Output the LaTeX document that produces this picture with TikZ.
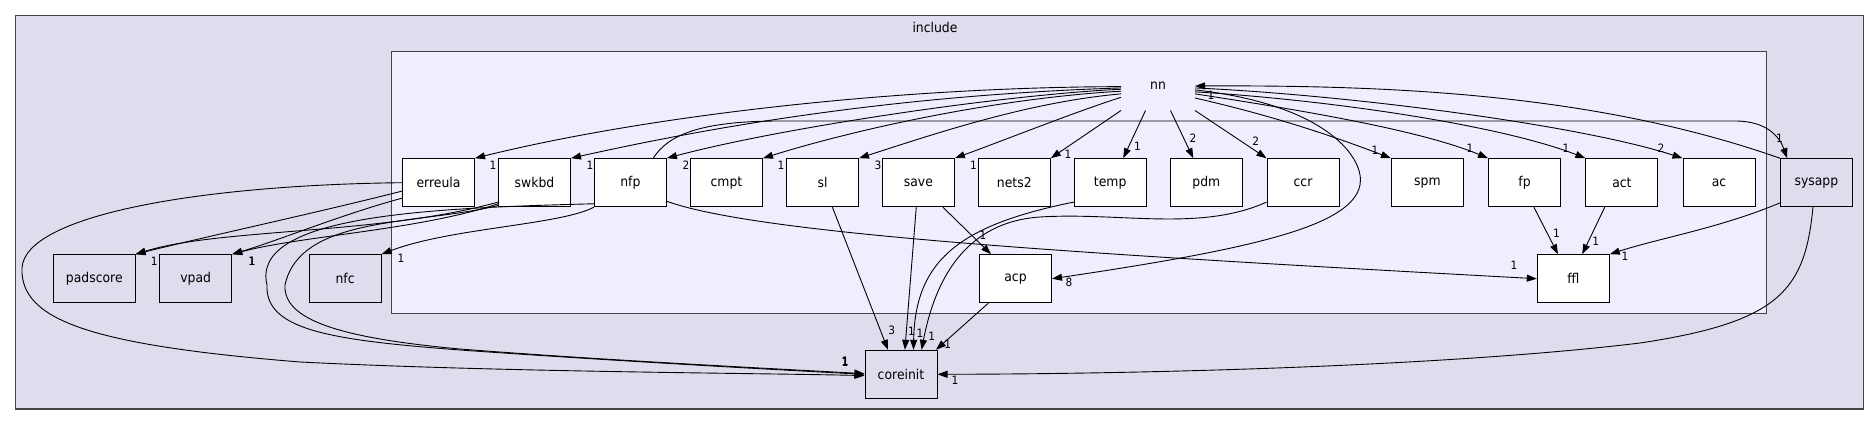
\documentclass[tikz,border=0pt]{standalone}
\usepackage{fontspec}
\setmainfont{DejaVu Sans}[FakeStretch=0.92]
\usetikzlibrary{arrows.meta}
\definecolor{outerfill}{HTML}{DDDDEE}
\definecolor{innerfill}{HTML}{EEEEFF}
\definecolor{clusterline}{HTML}{444444}
\begin{document}
\begin{tikzpicture}[x=1pt,y=-1pt,>={Triangle[length=10pt,width=7pt]},line width=1pt,
  font=\fontsize{13.5}{16}\selectfont,
  dirbox/.style={draw=black,fill=white,minimum width=72pt,minimum height=48pt,inner sep=0pt},
  extbox/.style={dirbox,fill=outerfill},
  dep/.style={->,line width=.9pt},
  lbl/.style={font=\fontsize{11.5}{13}\selectfont,inner sep=0pt}]
  \useasboundingbox (0,0) rectangle (1872,425);
  % clusters
  \draw[clusterline,fill=outerfill,line width=1.3pt] (15.5,15.7) rectangle (1863.7,409);
  \node (include) at (935,27) {include};
  \draw[clusterline,fill=innerfill,line width=1.3pt] (391.8,51.7) rectangle (1766.5,313.3);
  \node[minimum width=73pt,minimum height=48pt,inner sep=0pt] (nn) at (1158,86) {nn};
  % directories
  \node[dirbox] (erreula) at (438.5,182.7) {erreula};
  \node[dirbox] (swkbd) at (534.5,182.7) {swkbd};
  \node[dirbox] (nfp) at (630.4,182.7) {nfp};
  \node[dirbox] (cmpt) at (726.5,182.7) {cmpt};
  \node[dirbox] (sl) at (822.5,182.7) {sl};
  \node[dirbox] (save) at (918.4,182.7) {save};
  \node[dirbox] (nets2) at (1014.3,182.7) {nets2};
  \node[dirbox] (temp) at (1110.2,182.7) {temp};
  \node[dirbox] (pdm) at (1206.3,182.7) {pdm};
  \node[dirbox] (ccr) at (1303,182.7) {ccr};
  \node[dirbox] (spm) at (1427.4,182.7) {spm};
  \node[dirbox] (fp) at (1524.5,182.7) {fp};
  \node[dirbox] (act) at (1621.9,182.7) {act};
  \node[dirbox] (ac) at (1719,182.7) {ac};
  \node[extbox] (sysapp) at (1816.4,182.7) {sysapp};
  \node[extbox,minimum width=81.6pt] (padscore) at (94.3,278.7) {padscore};
  \node[extbox] (vpad) at (195.7,278.7) {vpad};
  \node[extbox] (nfc) at (345.1,278.7) {nfc};
  \node[dirbox] (acp) at (1015.5,278.7) {acp};
  \node[dirbox] (ffl) at (1573.3,278.7) {ffl};
  \node[extbox] (coreinit) at (901,374.3) {coreinit};
  % nn -> subdirectories
  \draw[dep] (nn.181) .. controls (900,87) and (650,115) .. (erreula.north east);
  \draw[dep] (nn.183) .. controls (900,95) and (720,125) .. (swkbd.north east);
  \draw[dep] (nn.185) .. controls (1000,95) and (780,128) .. (nfp.north east);
  \draw[dep] (nn.188) .. controls (1000,98) and (860,128) .. (cmpt.north east);
  \draw[dep] (nn.192) .. controls (1030,102) and (940,132) .. (sl.north east);
  \draw[dep] (nn.197) .. controls (1075,112) and (1010,138) .. (save.north east);
  \draw[dep] (nn.south west) -- (nets2.north east);
  \draw[dep] (nn.243) -- (temp.62);
  \draw[dep] (nn.297) -- (pdm.118);
  \draw[dep] (nn.south east) -- (ccr.north west);
  \draw[dep] (nn.-18) .. controls (1270,115) and (1330,135) .. (spm.north west);
  \draw[dep] (nn.-12) .. controls (1300,110) and (1420,130) .. (fp.north west);
  \draw[dep] (nn.-9) .. controls (1330,100) and (1500,125) .. (act.north west);
  \draw[dep] (nn.-3) .. controls (1350,95) and (1580,125) .. (ac.north west);
  \draw[dep] (nn.-6) .. controls (1330,105) and (1365,160) .. (1360,185)
    .. controls (1352,225) and (1260,248) .. (acp.east);
  \draw[dep] (sysapp.north west) .. controls (1600,95) and (1400,85) .. (nn.east);
  \draw[dep] (nfp.47) .. controls (668,135) and (700,121) .. (780,121) -- (1735,121)
    .. controls (1768,121) and (1780,138) .. (sysapp.140);
  % lower dependencies
  \draw[dep] (erreula.west) .. controls (200,185) and (25,215) .. (22,268)
    .. controls (20,320) and (90,345) .. (300,362) .. controls (500,372) and (750,373) .. (coreinit.182);
  \draw[dep] (erreula.193) .. controls (320,212) and (200,238) .. (padscore.north east);
  \draw[dep] (erreula.203) .. controls (340,215) and (280,240) .. (vpad.north east);
  \draw[dep] (swkbd.208) .. controls (380,235) and (220,228) .. (padscore.north east);
  \draw[dep] (swkbd.210) .. controls (420,230) and (300,236) .. (vpad.north east);
  \draw[dep] (swkbd.212) .. controls (420,225) and (300,215) .. (285,285)
    .. controls (283,320) and (340,338) .. (460,349) .. controls (600,360) and (780,369) .. (coreinit.179);
  \draw[dep] (nfp.210) .. controls (430,208) and (250,215) .. (267,285)
    .. controls (265,330) and (330,340) .. (460,350) .. controls (600,360) and (780,370) .. (coreinit.west);
  \draw[dep] (nfp.south west) .. controls (560,225) and (450,228) .. (nfc.north east);
  \draw[dep] (nfp.-27) .. controls (760,235) and (1100,255) .. (ffl.west);
  \draw[dep] (sl.292) -- (coreinit.118);
  \draw[dep] (save.265) -- (coreinit.81);
  \draw[dep] (save.315) -- (acp.135);
  \draw[dep] (temp.208) .. controls (960,225) and (915,260) .. (coreinit.63);
  \draw[dep] (ccr.208) .. controls (1200,232) and (1120,212) .. (1040,217)
    .. controls (965,222) and (935,280) .. (coreinit.50);
  \draw[dep] (acp.222) -- (coreinit.35);
  \draw[dep] (fp.291) -- (ffl.122);
  \draw[dep] (act.235) -- (ffl.70);
  \draw[dep] (sysapp.209) .. controls (1720,228) and (1660,238) .. (ffl.north east);
  \draw[dep] (sysapp.262) .. controls (1805,290) and (1780,322) .. (1640,343)
    .. controls (1450,366) and (1150,374) .. (coreinit.east);
  % edge counts
  \node[lbl] (n-erreula) at (493,165) {1};
  \node[lbl] (n-swkbd) at (590,165) {1};
  \node[lbl] (n-nfp) at (686,165) {2};
  \node[lbl] (n-cmpt) at (781,165) {1};
  \node[lbl] (n-sl) at (878,165) {3};
  \node[lbl] (n-save) at (973.5,165) {1};
  \node[lbl] (n-nets2) at (1068,154) {1};
  \node[lbl] (n-temp) at (1137.5,146) {1};
  \node[lbl] (n-pdm) at (1193,138) {2};
  \node[lbl] (n-ccr) at (1255.7,141) {2};
  \node[lbl] (n-spm) at (1375,150) {1};
  \node[lbl] (n-fp) at (1470,148) {1};
  \node[lbl] (n-act) at (1566,148) {1};
  \node[lbl] (n-ac) at (1661,148) {2};
  \node[lbl] (n-acp) at (1069,282) {8};
  \node[lbl] (sysapp-nn) at (1211,95) {1};
  \node[lbl] (nfp-sysapp) at (1779.5,138) {1};
  \node[lbl] (save-acp) at (983,235) {1};
  \node[lbl] (sl-core) at (891.7,330) {3};
  \node[lbl] (save-core) at (911.5,331.7) {1};
  \node[lbl] (temp-core) at (920,333.3) {1};
  \node[lbl] (ccr-core) at (931.7,336.7) {1};
  \node[lbl] (acp-core) at (947.7,344) {1};
  \node[lbl] (erreula-core) at (845,362.3) {1};
  \node[lbl] (swkbd-core) at (845.5,361.3) {1};
  \node[lbl] (nfp-core) at (845,361.8) {1};
  \node[lbl] (sysapp-core) at (955,380) {1};
  \node[lbl] (to-padscore) at (154.3,261) {1};
  \node[lbl] (to-vpad) at (251.7,261.7) {1};
  \node[lbl] (to-vpad2) at (252.2,261.7) {1};
  \node[lbl] (nfp-nfc) at (401,258.3) {1};
  \node[lbl] (nfp-ffl) at (1514,265) {1};
  \node[lbl] (fp-ffl) at (1556.5,233.3) {1};
  \node[lbl] (act-ffl) at (1595.6,241.7) {1};
  \node[lbl] (sysapp-ffl) at (1625,256.7) {1};
\end{tikzpicture}
\end{document}
